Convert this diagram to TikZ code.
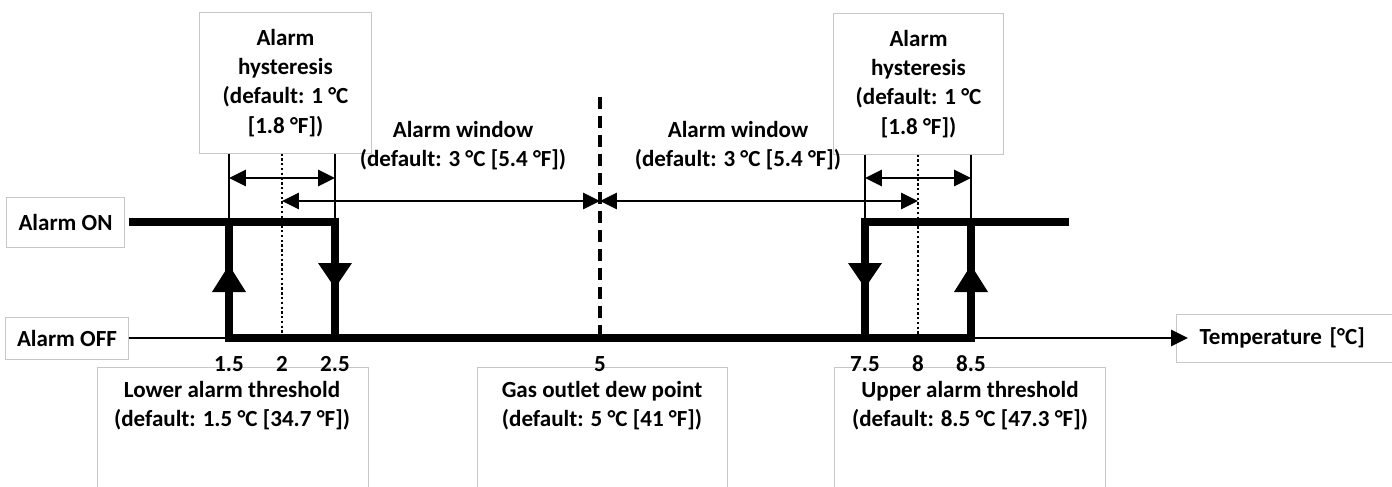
\documentclass[tikz,border=0pt]{standalone}
\usepackage{fontspec}
\setmainfont{Carlito}
\usetikzlibrary{arrows.meta}
\tikzset{
  lbl/.style = {font=\fontsize{16.4}{20.8}\selectfont\bfseries, align=center, inner sep=0pt},
  boxed/.style = {draw=black!22, line width=0.7pt},
  heavy/.style = {line width=5.5pt, line join=miter},
  guide/.style = {line width=1.7pt},
  dotline/.style = {line width=2pt, dash pattern=on 1.7pt off 1.7pt},
  dashline/.style = {line width=2.3pt, dash pattern=on 8.5pt off 5pt}
}
\tikzset{>={Triangle[length=0.42cm,width=0.4cm]}}

\begin{document}
\begin{tikzpicture}[x=0.025cm,y=-0.025cm]
  \pgfmathsetmacro{\yon}{222}
  \pgfmathsetmacro{\yoff}{338}
  \useasboundingbox (0,0) rectangle (1392,486);
  % temperatures on the axis
  \foreach \n/\t in {15/1.5, 20/2, 25/2.5, 50/5, 75/7.5, 80/8, 85/8.5}
    \coordinate (t\n) at ({70+106*\t},\yoff);
  \coordinate (hy) at (0,178);
  \coordinate (win) at (0,201);
  % states and axis name
  \node[boxed, lbl, minimum width=2.925cm, minimum height=1.25cm] (on) at (65.5,\yon) {Alarm ON};
  \node[boxed, lbl, minimum width=3.05cm, minimum height=1.05cm] (off) at (67,\yoff) {Alarm OFF};
  \node[boxed, lbl, anchor=west, text width=5cm, align=left, inner xsep=0.575cm, minimum height=1.2cm] (temp) at (1176,\yoff) {Temperature [°C]};
  % hysteresis
  \node[boxed, lbl, minimum width=4.275cm, minimum height=3.5cm] (hystlo) at (285.5,83) {Alarm\\hysteresis\\(default: 1 °C\\{}[1.8 °F])};
  \node[boxed, lbl, minimum width=4.225cm, minimum height=3.5cm] (hysthi) at (918.5,84) {Alarm\\hysteresis\\(default: 1 °C\\{}[1.8 °F])};
  % windows
  \node[lbl] (winlo) at (463,146) {Alarm window\\(default: 3 °C [5.4 °F])};
  \node[lbl] (winhi) at (738,146) {Alarm window\\(default: 3 °C [5.4 °F])};
  % thresholds
  \draw[boxed] (97,367) rectangle (368,500);
  \draw[boxed] (477,367) rectangle (727,500);
  \draw[boxed] (834,367) rectangle (1105,500);
  \node[lbl] (thrlo) at (232,406) {Lower alarm threshold\\(default: 1.5 °C [34.7 °F])};
  \node[lbl] (dew) at (602,406) {Gas outlet dew point\\(default: 5 °C [41 °F])};
  \node[lbl] (thrhi) at (970,406) {Upper alarm threshold\\(default: 8.5 °C [47.3 °F])};
  % centre lines
  \draw[dotline] (hystlo.south -| t20) -- ([yshift=-0.1cm]t20);
  \draw[dotline] (hysthi.south -| t80) -- ([yshift=-0.1cm]t80);
  \draw[dashline] ([yshift=6.025cm]t50) -- ([yshift=-0.1cm]t50);
  % axis
  \draw[guide,->] (off.east) -- ([xshift=0.3cm]temp.west);
  % alarm state
  \draw[heavy] ([xshift=0.1cm]on.east) -- (t25 |- on) -- (t25);
  \draw[heavy] (t15 |- on) -- (t15) -- (t85) -- (t85 |- on);
  \draw[heavy] (t75) -- (t75 |- on) -- ++(204,0);
  \fill (t15) ++(-17,-46) -- ++(34,0) -- ++(-17,-27) -- cycle;
  \fill (t25) ++(-17,-75) -- ++(34,0) -- ++(-17,25) -- cycle;
  \fill (t75) ++(-17,-75) -- ++(34,0) -- ++(-17,25) -- cycle;
  \fill (t85) ++(-17,-46) -- ++(34,0) -- ++(-17,-27) -- cycle;
  % hysteresis limits
  \draw[guide] (hystlo.south -| t15) -- (t15 |- on);
  \draw[guide] (hystlo.south -| t25) -- (t25 |- on);
  \draw[guide] (hysthi.south -| t75) -- (t75 |- on);
  \draw[guide] (hysthi.south -| t85) -- (t85 |- on);
  \draw[guide,<->] (t15 |- hy) -- (t25 |- hy);
  \draw[guide,<->] (t75 |- hy) -- (t85 |- hy);
  % windows
  \draw[guide,<->] (t20 |- win) -- (t50 |- win);
  \draw[guide,<->] (t50 |- win) -- (t80 |- win);
  % values
  \foreach \n/\t in {15/1.5, 20/2, 25/2.5, 50/5, 75/7.5, 80/8, 85/8.5}
    \node[lbl] (lab\n) at ([yshift=-0.65cm]t\n) {\t};
\end{tikzpicture}
\end{document}
